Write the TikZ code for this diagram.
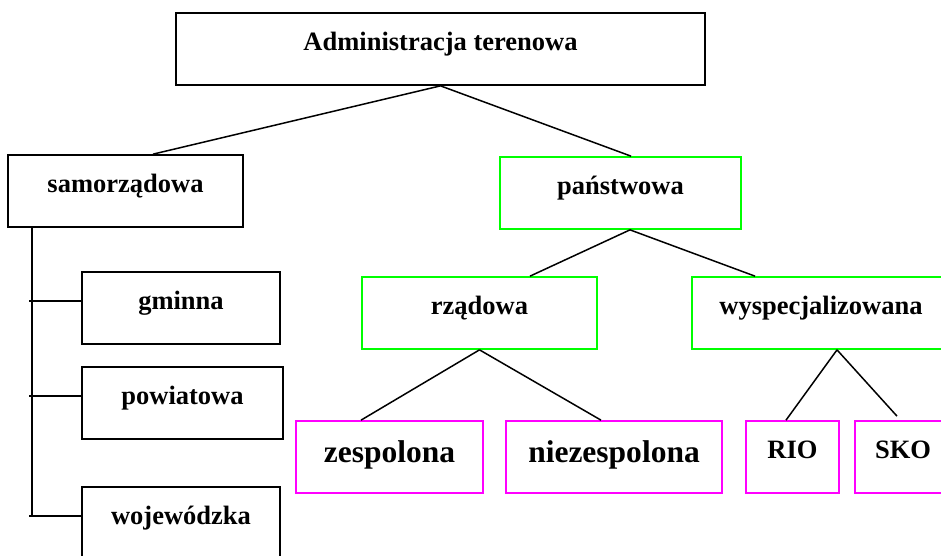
\documentclass[tikz,border=0pt]{standalone}
\usepackage{fontspec}
\setmainfont{Liberation Serif}
\usetikzlibrary{positioning,calc}

\definecolor{boxgreen}{RGB}{0,255,0}
\definecolor{boxpink}{RGB}{255,0,255}

\begin{document}
\begin{tikzpicture}[x=1pt,y=-1pt,
		box/.style={draw, line width=1.7pt, inner sep=0pt, minimum height=72pt,
			text height=37pt, text depth=35pt, font=\fontsize{26.5}{30}\selectfont\bfseries},
		greenbox/.style={box, draw=boxgreen},
		pinkbox/.style={box, draw=boxpink, text height=41pt, text depth=31pt,
			font=\fontsize{31.5}{36}\selectfont\bfseries},
		link/.style={line width=1.5pt}]
			\useasboundingbox (0,0) rectangle (941,555);
			\clip (0,0) rectangle (941,555);
			
			% Top level
			\node[box, minimum width=529pt] (top) at (440.5,49) {Administracja terenowa};
			
			% Second level
			\node[box, minimum width=235pt] (samo) at (125.5,191) {samorządowa};
			\node[greenbox, minimum width=241pt] (panst) at (620.5,193) {państwowa};
			
			% Local government units
			\node[box, minimum width=198pt] (gmina) at (181,308) {gminna};
			\node[box, minimum width=201pt] (powiat) at (182.5,403) {powiatowa};
			\node[box, minimum width=198pt] (woj) at (181,523) {wojewódzka};
			
			% State branches
			\node[greenbox, minimum width=235pt] (rzad) at (479.5,313) {rządowa};
			\node[greenbox, minimum width=258pt] (wysp) at (821,313) {wyspecjalizowana};
			
			% Bottom level
			\node[pinkbox, minimum width=187pt] (zesp) at (389.5,457) {zespolona};
			\node[pinkbox, minimum width=216pt] (niez) at (614,457) {niezespolona};
			\node[box, draw=boxpink, minimum width=93pt] (rio) at (792.5,457) {RIO};
			\node[box, draw=boxpink, minimum width=96pt] (sko) at (903,457) {SKO};
			
			% Tree connectors
			\draw[link] (top.south) -- ([xshift=27.5pt]samo.north);
			\draw[link] (top.south) -- ([xshift=10.5pt]panst.north);
			\draw[link] ([xshift=9.5pt]panst.south) -- ([xshift=50.5pt]rzad.north);
			\draw[link] ([xshift=9.5pt]panst.south) -- ([xshift=-66pt]wysp.north);
			\draw[link] (rzad.south) -- ([xshift=-28.5pt]zesp.north);
			\draw[link] (rzad.south) -- ([xshift=-13pt]niez.north);
			\draw[link] ([xshift=16pt]wysp.south) -- ([xshift=-6.5pt]rio.north);
			\draw[link] ([xshift=16pt]wysp.south) -- ([xshift=-6pt,yshift=4pt]sko.north);
			
			% Spine with ticks
			\coordinate (spine) at ([xshift=25pt]samo.south west);
			\coordinate (wtick) at ([yshift=-30pt]woj.north west);
			\draw[link] (spine) -- (spine |- wtick);
			\foreach \b in {gmina,powiat,woj} {
				\draw[link] ([yshift=-30pt]\b.north west) -- ++(-52pt,0);
			}
		\end{tikzpicture}
\end{document}
